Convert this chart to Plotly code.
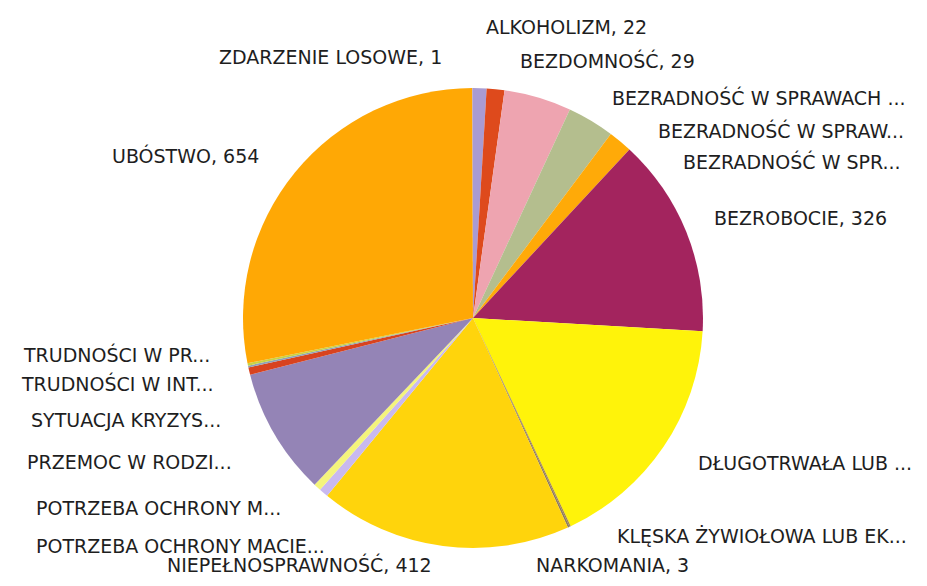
import plotly.graph_objects as go

# slices in drawing order (clockwise from 12 o'clock)
labels = [
    "ALKOHOLIZM", "BEZDOMNOŚĆ", "BEZRADNOŚĆ W SPRAWACH ...",
    "BEZRADNOŚĆ W SPRAW...", "BEZRADNOŚĆ W SPR...", "BEZROBOCIE",
    "DŁUGOTRWAŁA LUB ...", "KLĘSKA ŻYWIOŁOWA LUB EK...", "NARKOMANIA",
    "NIEPEŁNOSPRAWNOŚĆ", "POTRZEBA OCHRONY MACIE...", "POTRZEBA OCHRONY M...",
    "PRZEMOC W RODZI...", "SYTUACJA KRYZYS...", "TRUDNOŚCI W INT...",
    "TRUDNOŚCI W PR...", "UBÓSTWO", "ZDARZENIE LOSOWE",
]
values = [22, 29, 110, 77, 39, 326, 398, 2, 3, 412, 15, 12, 208, 12, 3, 4, 654, 1]
colors = [
    "#A99BD2", "#DE4A1C", "#EEA4B0", "#B4BE8E", "#FFAA08", "#A3245E",
    "#FFF30A", "#A08048", "#8E7A5E", "#FFD40C", "#C9B9F0", "#F4F47C",
    "#9484B6", "#D8431F", "#8FA0B8", "#C9D243", "#FFA805", "#A99BD2",
]

# label placement (pixel centres as seen in the 927x586 window)
label_pos = [
    (566, 27), (607, 60), (759, 97), (781, 130), (792, 162), (800, 218),
    (805, 463), (762, 536), (612, 565), (299, 564), (180, 546), (158, 508),
    (130, 462), (126, 420), (117, 383), (116, 354), (185, 156), (330, 57),
]

OFF = 8  # default page body margin
W, H = 927 - 2 * OFF, 586 - 2 * OFF


def px(x):
    return (x - OFF) / W


def py(y):
    return 1 - (y - OFF) / H


fig = go.Figure(go.Pie(
    labels=labels, values=values, sort=False, direction="clockwise",
    rotation=0, textinfo="none", hoverinfo="label+value+percent",
    marker=dict(colors=colors, line=dict(width=0)),
    domain=dict(x=[px(243), px(703)], y=[py(548), py(88)]),
))

for lab, val, (x, y) in zip(labels, values, label_pos):
    txt = lab if lab.endswith("...") else f"{lab}, {val}"
    fig.add_annotation(text=txt, x=px(x), y=py(y), xref="paper", yref="paper",
                       xanchor="center", yanchor="middle", showarrow=False,
                       font=dict(family="DejaVu Sans", size=19, color="#1e1e1e"))

fig.update_layout(width=W, height=H, margin=dict(l=0, r=0, t=0, b=0),
                  showlegend=False, paper_bgcolor="white", plot_bgcolor="white")
fig.write_html("out.html")
